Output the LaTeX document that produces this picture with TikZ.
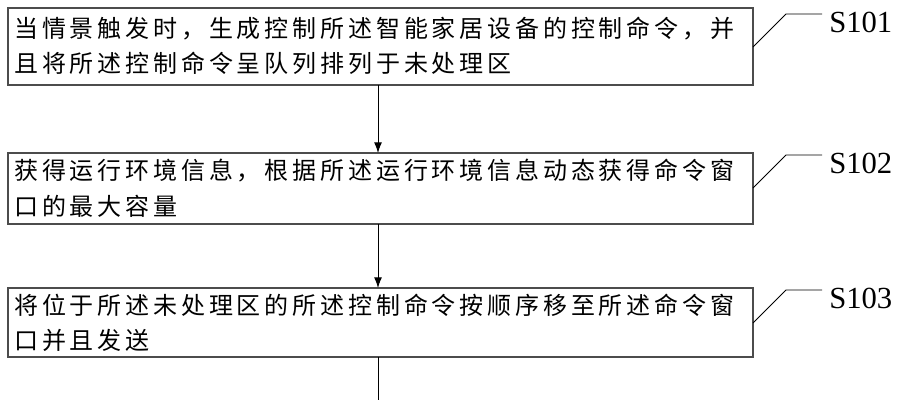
\documentclass[tikz,border=0pt]{standalone}
\usepackage{fontspec}
\usetikzlibrary{arrows.meta}
\newfontfamily\cjk[LetterSpace=16]{Noto Sans CJK SC}
\newfontfamily\lab{Liberation Serif}
\begin{document}
\begin{tikzpicture}[x=0.75pt,y=-0.75pt,
  box/.style={draw=black!70,line width=0.8pt},
  txt/.style={anchor=west,inner sep=0,font=\cjk\fontsize{18pt}{20pt}\selectfont},
  lbl/.style={anchor=west,inner sep=0,font=\lab\fontsize{23pt}{25pt}\selectfont},
  ln/.style={line width=0.7pt},
  arr/.style={line width=0.7pt,-{Latex[length=8pt,width=6pt]}}]
\useasboundingbox (0,0) rectangle (899,400);
\draw[box] (8,8) rectangle (753,85);
\draw[box] (8,153) rectangle (753,224);
\draw[box] (8,288) rectangle (753,357);
\coordinate (b1) at (378,85); \coordinate (t2) at (378,153);
\coordinate (b2) at (378,224); \coordinate (t3) at (378,288);
\coordinate (b3) at (378,357); \coordinate (e) at (378,400);
\node[txt] (l1a) at (14,29) {当情景触发时，生成控制所述智能家居设备的控制命令，并};
\node[txt] (l1b) at (14,63) {且将所述控制命令呈队列排列于未处理区};
\node[txt] (l2a) at (14,171) {获得运行环境信息，根据所述运行环境信息动态获得命令窗};
\node[txt] (l2b) at (14,206) {口的最大容量};
\node[txt] (l3a) at (14,305) {将位于所述未处理区的所述控制命令按顺序移至所述命令窗};
\node[txt] (l3b) at (14,340) {口并且发送};
\draw[arr] (b1) -- (t2);
\draw[arr] (b2) -- (t3);
\draw[ln] (b3) -- (e);
\foreach \y/\s in {47/S101,188/S102,323/S103}{
  \draw[ln] (753,\y) -- (786,\y-33) -- (822,\y-33);
  \node[lbl] (n\s) at (829,\y-25) {\s};
}
\end{tikzpicture}
\end{document}
